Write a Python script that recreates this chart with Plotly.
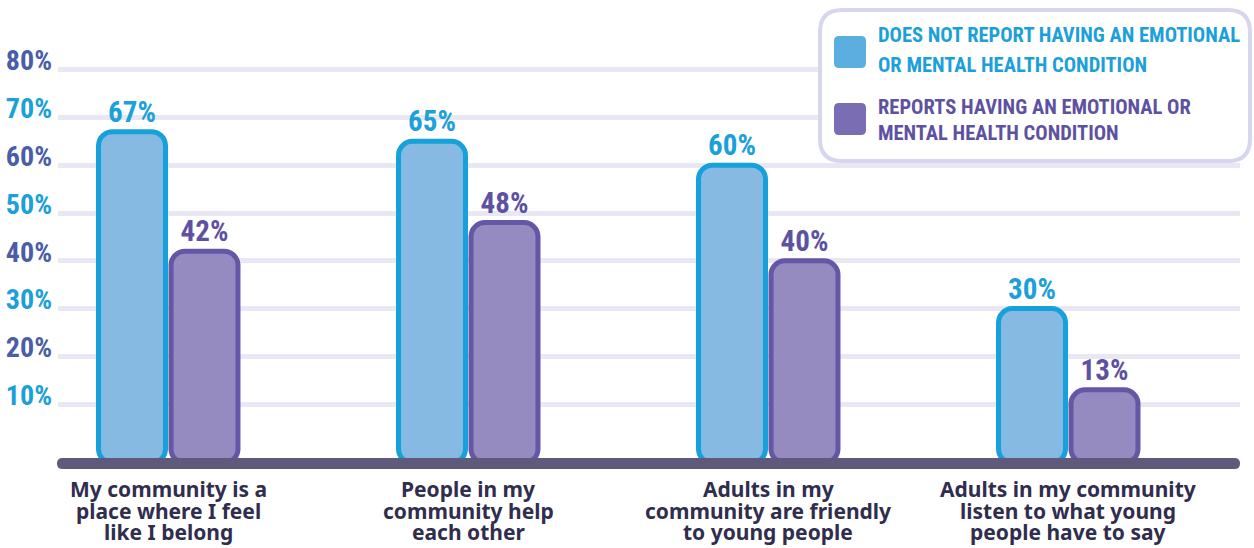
import plotly.graph_objects as go

# ---- data ----
categories = [
    ["My community is a", "place where I feel", "like I belong"],
    ["People in my", "community help", "each other"],
    ["Adults in my", "community are friendly", "to young people"],
    ["Adults in my community", "listen to what young", "people have to say"],
]
no_condition = [67, 65, 60, 30]
with_condition = [42, 48, 40, 13]
series_names = [
    ["DOES NOT REPORT HAVING AN EMOTIONAL", "OR MENTAL HEALTH CONDITION"],
    ["REPORTS HAVING AN EMOTIONAL OR", "MENTAL HEALTH CONDITION"],
]
y_ticks = [10, 20, 30, 40, 50, 60, 70, 80]

# ---- styling ----
W, H = 1254, 548
ML, MR = 58, 14
ZERO_PX = 452          # pixel row of the 0% level
PX_PER_PCT = 4.78      # vertical pixels per percentage point
PX_PER_CAT = 300       # horizontal pixels between category centres
FIRST_CAT_PX = 168.25  # pixel column of the first category centre
BAR_FLOOR = -2.3       # bars run down into the thick baseline

NARROW = "Roboto Condensed, DejaVu Sans Condensed, sans-serif"
BODY = "Noto Sans, Open Sans, sans-serif"

BLUE_FILL, BLUE_LINE, BLUE_TEXT, BLUE_KEY = "#86bae3", "#17a1da", "#1ba0d9", "#5aaee0"
PURP_FILL, PURP_LINE, PURP_TEXT, PURP_KEY = "#958bc1", "#6556a6", "#5e51a2", "#7a6db3"
TICK_COLORS = ["#1ba0d9", "#4a5ea8"]
GRID = "#e8e7f3"
BASELINE = "#5f5a7c"
LABEL_DARK = "#302d4e"

cat_keys = [" ".join(lines) for lines in categories]

fig = go.Figure()
for vals, fill, line, tcol in [
    (no_condition, BLUE_FILL, BLUE_LINE, BLUE_TEXT),
    (with_condition, PURP_FILL, PURP_LINE, PURP_TEXT),
]:
    fig.add_trace(go.Bar(
        x=cat_keys,
        y=[v - BAR_FLOOR for v in vals],
        base=BAR_FLOOR,
        marker=dict(color=fill, line=dict(color=line, width=5), cornerradius=14),
        text=[f"{v}%" for v in vals],
        textposition="outside",
        constraintext="none",
        textfont=dict(family=NARROW, size=29, color=tcol, weight="bold"),
        cliponaxis=False,
        showlegend=False,
        hoverinfo="skip",
    ))


def rounded_rect(x0, y0, x1, y1, r, ax_px, ay_px):
    """Rounded rectangle given in page pixels (origin top-left), expressed
    relative to an anchor pixel, with y pointing up."""
    def P(x, y):
        return f"{x - ax_px:.2f},{ay_px - y:.2f}"
    return " ".join([
        f"M{P(x0 + r, y0)}",
        f"L{P(x1 - r, y0)}",
        f"Q{P(x1, y0)} {P(x1, y0 + r)}",
        f"L{P(x1, y1 - r)}",
        f"Q{P(x1, y1)} {P(x1 - r, y1)}",
        f"L{P(x0 + r, y1)}",
        f"Q{P(x0, y1)} {P(x0, y1 - r)}",
        f"L{P(x0, y0 + r)}",
        f"Q{P(x0, y0)} {P(x0 + r, y0)}",
        "Z",
    ])


def pixel_shape(x0, y0, x1, y1, r, fill, line_color=None, line_width=0):
    return dict(
        type="path", xref="paper", yref="paper",
        xsizemode="pixel", ysizemode="pixel", xanchor=0, yanchor=1,
        path=rounded_rect(x0, y0, x1, y1, r, ML, 0),
        fillcolor=fill,
        line=dict(color=line_color or fill, width=line_width),
        layer="above",
    )


shapes = [
    # thick baseline under the bars
    pixel_shape(57, 458, 1240, 469, 5.5, BASELINE),
    # legend frame
    pixel_shape(820, 10, 1250, 161, 22, "white", "#d6d6ee", 4),
    # legend keys
    pixel_shape(834, 36, 866, 68, 5, BLUE_KEY),
    pixel_shape(834, 103, 866, 135, 5, PURP_KEY),
]

annotations = []
plot_w = W - ML - MR


def paper_x(px):
    return (px - ML) / plot_w


def paper_y(py):
    return 1 - py / H


# legend text
for lines, ys, col in [
    (series_names[0], [35, 65], BLUE_TEXT),
    (series_names[1], [107, 133], PURP_TEXT),
]:
    for txt, yy in zip(lines, ys):
        annotations.append(dict(
            x=paper_x(876), y=paper_y(yy), xref="paper", yref="paper",
            xanchor="left", yanchor="middle", text=txt, showarrow=False,
            font=dict(family=NARROW, size=20.5, color=col, weight="bold"),
        ))

# category labels below the baseline
for key, lines in zip(cat_keys, categories):
    for i, txt in enumerate(lines):
        annotations.append(dict(
            x=key, y=0, xref="x", yref="y", xanchor="center", yanchor="middle",
            yshift=-(37 + 21.5 * i), text=txt, showarrow=False,
            font=dict(family=BODY, size=21, color=LABEL_DARK, weight="bold"),
        ))

tick_text = [
    f'<span style="color:{TICK_COLORS[i % 2]}">{v}%</span>'
    for i, v in enumerate(y_ticks)
]

fig.update_layout(
    width=W, height=H,
    margin=dict(l=ML, r=MR, t=0, b=0, pad=0),
    paper_bgcolor="white", plot_bgcolor="white",
    barmode="group", bargap=0.5167, bargroupgap=0.076,
    xaxis=dict(
        range=[(ML - FIRST_CAT_PX) / PX_PER_CAT, (W - MR - FIRST_CAT_PX) / PX_PER_CAT],
        showticklabels=False, showgrid=False, zeroline=False, showline=False,
        fixedrange=True, automargin=False,
    ),
    yaxis=dict(
        range=[-(H - ZERO_PX) / PX_PER_PCT, ZERO_PX / PX_PER_PCT],
        tickvals=y_ticks, ticktext=tick_text,
        tickfont=dict(family=NARROW, size=28, weight="bold"),
        ticklabelshift=-9, ticklabelstandoff=5,
        showgrid=True, gridcolor=GRID, gridwidth=5,
        zeroline=False, showline=False, ticks="", fixedrange=True,
        automargin=False,
    ),
    shapes=shapes,
    annotations=annotations,
)

fig.write_html("out.html")
